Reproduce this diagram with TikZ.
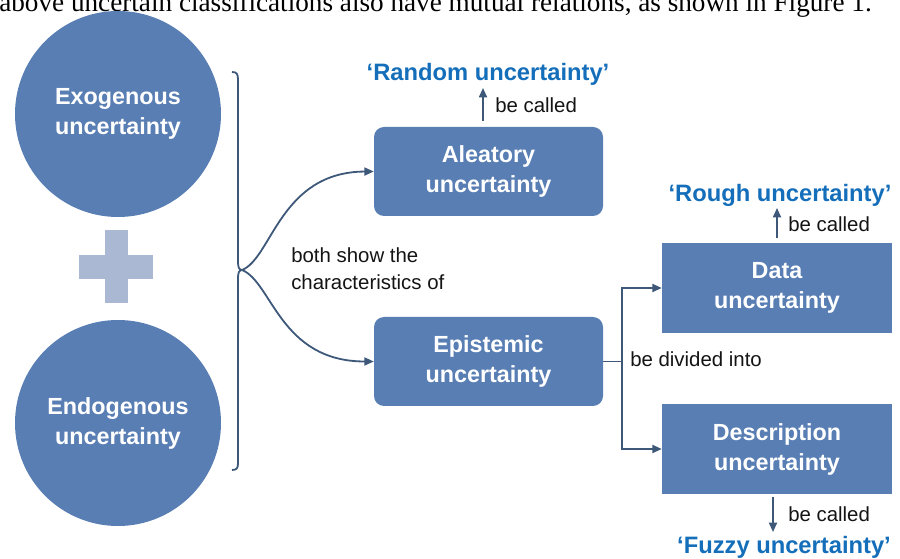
\documentclass[tikz,border=0pt]{standalone}
\usepackage{fontspec}
\setmainfont{Liberation Sans}
\newfontfamily\serifpaper{Liberation Serif}
\usetikzlibrary{arrows.meta,calc}
\definecolor{nodeblue}{RGB}{88,126,180}
\definecolor{plusblue}{RGB}{171,184,211}
\definecolor{lineblue}{RGB}{62,88,122}
\definecolor{labelblue}{RGB}{20,110,185}
\definecolor{txt}{RGB}{20,20,20}
\tikzset{
  bigcirc/.style={circle,fill=nodeblue,draw=none,inner sep=0pt,minimum size=154.5pt,
    text=white,align=center,font=\fontsize{17.5}{22.5}\selectfont\bfseries},
  roundbox/.style={rectangle,rounded corners=7.5pt,fill=nodeblue,draw=none,
    minimum width=171.75pt,minimum height=66.75pt,inner sep=0pt,
    text=white,align=center,font=\fontsize{17.5}{22.5}\selectfont\bfseries},
  sqbox/.style={rectangle,fill=nodeblue,draw=none,
    minimum width=172.5pt,minimum height=67.5pt,inner sep=0pt,
    text=white,align=center,font=\fontsize{17.5}{22.5}\selectfont\bfseries},
  called/.style={font=\fontsize{17.8}{21}\selectfont\bfseries,text=labelblue,inner sep=0pt},
  plain/.style={font=\fontsize{15.3}{20}\selectfont,text=txt,inner sep=0pt,align=left},
  conn/.style={draw=lineblue,line width=1.35pt},
  arr/.style={conn,-{Triangle[length=7pt,width=6pt]}},
}
\begin{document}
\begin{tikzpicture}[x=0.75pt,y=-0.75pt]
\useasboundingbox (0,0) rectangle (900,559);
% cut-off paper text at the top
\node[anchor=base west,inner sep=0pt,font=\serifpaper\fontsize{20.4}{22}\selectfont,text=black] (paper) at (-1,12)
  {above uncertain classifications also have mutual relations, as shown in Figure 1.};
% circles
\node[bigcirc] (exo) at (118,114) {Exogenous\\uncertainty};
\node[bigcirc] (endo) at (118,423) {Endogenous\\uncertainty};
% plus
\fill[plusblue] (105,230) rectangle (128,303);
\fill[plusblue] (79,255) rectangle (153,279);
% brace
\coordinate (bm) at (242,270);
\draw[conn] (232,72) .. controls (237,72) and (238,74) .. (238,80) -- (238,262)
  .. controls (238,267) and (239,270) .. (bm)
  .. controls (239,270) and (238,273) .. (238,278) -- (238,463)
  .. controls (238,468) and (237,470) .. (232,470);
% boxes
\node[roundbox] (ale) at (488.5,171.5) {Aleatory\\uncertainty};
\node[roundbox] (epi) at (488.5,361.5) {Epistemic\\uncertainty};
\node[sqbox] (data) at (777,288) {Data\\uncertainty};
\node[sqbox] (desc) at (777,449) {Description\\uncertainty};
% S-curves
\draw[arr] (bm) .. controls (272,258) and (280,172) .. (ale.west);
\draw[arr] (bm) .. controls (272,282) and (280,361.5) .. (epi.west);
\node[plain,anchor=base west] (both) at (291,263) {both show the};
\node[plain,anchor=base west] (chars) at (291,290) {characteristics of};
% elbow
\coordinate (split) at (622,361.5);
\draw[conn] (epi.east) -- (split);
\draw[arr] (split) |- (data.west);
\draw[arr] (split) |- (desc.west);
\node[plain,anchor=base west] (divided) at (630,367) {be divided into};
% random
\node[called,anchor=base] (random) at (488,81) {‘Random uncertainty’};
\coordinate (r1) at (483,121);
\coordinate (r2) at (483,88);
\draw[arr] (r1) -- (r2);
\node[plain,anchor=base west] (c1) at (495,113) {be called};
% rough
\node[called,anchor=base] (rough) at (780,202) {‘Rough uncertainty’};
\coordinate (g1) at (777,238);
\coordinate (g2) at (777,208);
\draw[arr] (g1) -- (g2);
\node[plain,anchor=base west] (c2) at (788,232) {be called};
% fuzzy
\coordinate (f1) at (773,497);
\coordinate (f2) at (773,532);
\draw[arr] (f1) -- (f2);
\node[plain,anchor=base west] (c3) at (788,522) {be called};
\node[called,anchor=base] (fuzzy) at (784,553) {‘Fuzzy uncertainty’};
\end{tikzpicture}
\end{document}
